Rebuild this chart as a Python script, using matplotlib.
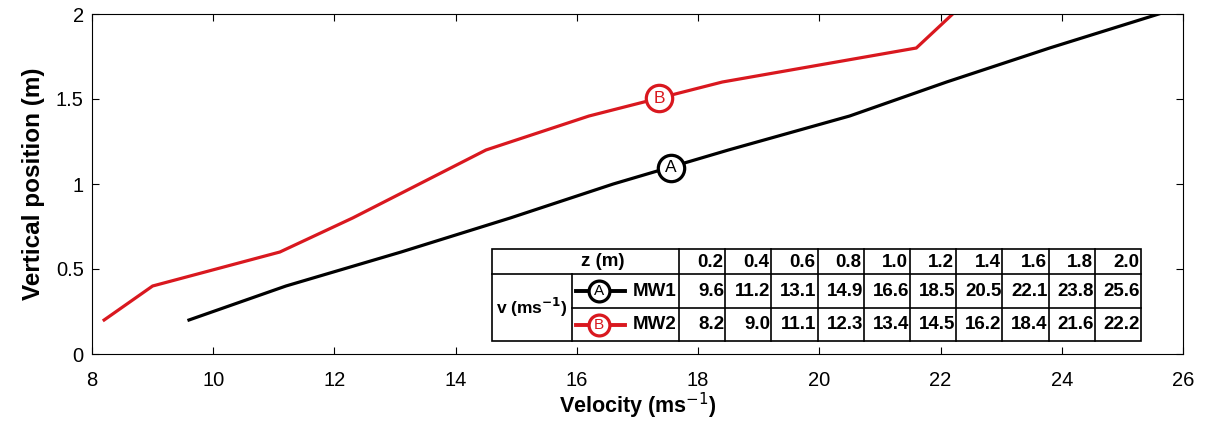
import matplotlib.pyplot as plt
import numpy as np

# Данные: высота и скорость для двух профилей
z = [0.2, 0.4, 0.6, 0.8, 1.0, 1.2, 1.4, 1.6, 1.8, 2.0]
mw1 = [9.6, 11.2, 13.1, 14.9, 16.6, 18.5, 20.5, 22.1, 23.8, 25.6]
mw2 = [8.2, 9.0, 11.1, 12.3, 13.4, 14.5, 16.2, 18.4, 21.6, 22.2]
names = ['MW1', 'MW2']
letters = ['A', 'B']
colors = ['black', '#d9181f']
label_pos = [(17.55, 1.095), (17.36, 1.505)]

W, H = 1205, 423
fig = plt.figure(figsize=(W / 100, H / 100), dpi=100)
plt.rcParams['font.family'] = ['Liberation Sans', 'DejaVu Sans']


def px(x, y):
    # пиксели картинки -> доли фигуры
    return x / W, 1 - y / H


ax = fig.add_axes([92 / W, 1 - 354 / H, 1091 / W, 340 / H])
for v, c in zip([mw1, mw2], colors):
    ax.plot(v, z, color=c, lw=2.3, solid_joinstyle='miter', clip_on=True)

for (x, y), c, t in zip(label_pos, colors, letters):
    ax.plot(x, y, 'o', ms=19, mfc='white', mec=c, mew=2.3, zorder=5)
    ax.text(x, y, t, color=c, ha='center', va='center', fontsize=12.5, zorder=6)

ax.set_xlim(8, 26)
ax.set_ylim(0, 2)
ax.set_xticks(np.arange(8, 27, 2))
ax.set_yticks([0, 0.5, 1, 1.5, 2])
ax.set_yticklabels(['0', '0.5', '1', '1.5', '2'])
ax.tick_params(direction='in', top=True, right=True, length=5, labelsize=14.5)
ax.tick_params(axis='x', pad=12)
ax.tick_params(axis='y', pad=6)
ax.set_xlabel('Velocity (ms$^{-1}$)', fontsize=15.5, fontweight='bold', labelpad=1)
ax.set_ylabel('Vertical position (m)', fontsize=17.5, fontweight='bold', labelpad=8)

# Таблица значений
x0, x1, x2, x3 = 492, 572, 679, 1141
y0, y1, y2, y3 = 249, 274, 308, 341
fig.patches.append(plt.Rectangle(px(x0, y3), (x3 - x0) / W, (y3 - y0) / H,
                                 transform=fig.transFigure, fc='white', ec='black', lw=1.2, zorder=10))


def hline(xa, xb, y):
    fig.add_artist(plt.Line2D([xa / W, xb / W], [1 - y / H] * 2, color='black', lw=1.2, zorder=11))


def vline(x, ya, yb):
    fig.add_artist(plt.Line2D([x / W] * 2, [1 - ya / H, 1 - yb / H], color='black', lw=1.2, zorder=11))


hline(x0, x3, y1)
hline(x1, x3, y2)
vline(x1, y1, y3)
colw = (x3 - x2) / len(z)
for i in range(len(z)):
    vline(x2 + i * colw, y0, y3)

tk = dict(fontsize=13.5, fontweight='bold', zorder=12)
fig.text(*px(603, (y0 + y1) / 2), 'z (m)', ha='center', va='center', **tk)
fig.text(*px((x0 + x1) / 2, (y1 + y3) / 2), r'v (ms$^{\mathbf{-1}}$)', ha='center', va='center',
         fontsize=12.5, fontweight='bold', zorder=12)
rows = [(y1, y2), (y2, y3)]
for i, val in enumerate(z):
    fig.text(*px(x2 + (i + 1) * colw - 2, (y0 + y1) / 2 + 1), f'{val:.1f}', ha='right', va='center', **tk)
for (ya, yb), vals, nm, c, t in zip(rows, [mw1, mw2], names, colors, letters):
    ym = (ya + yb) / 2
    fig.add_artist(plt.Line2D([576 / W, 625 / W], [1 - ym / H] * 2, color=c, lw=2.8, zorder=12))
    fig.add_artist(plt.Line2D([599 / W], [1 - ym / H], marker='o', ms=15, mfc='white', mec=c, mew=2.3, zorder=13))
    fig.text(*px(599, ym), t, color=c, ha='center', va='center', fontsize=11, zorder=14)
    fig.text(*px(x2 - 2, ym), nm, ha='right', va='center', **tk)
    for i, val in enumerate(vals):
        fig.text(*px(x2 + (i + 1) * colw - 1, ym), f'{val:.1f}', ha='right', va='center', **tk)

fig.savefig('out.png', dpi=100)
